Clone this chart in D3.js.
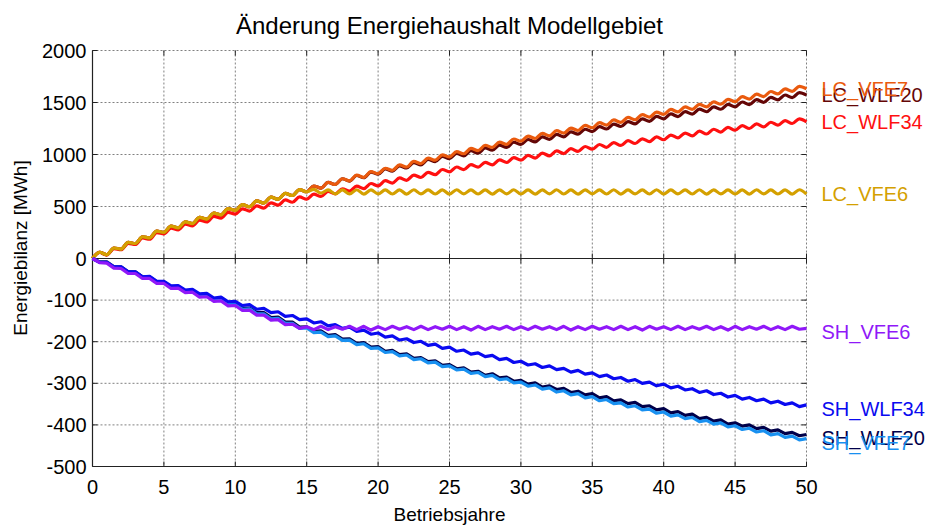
<!DOCTYPE html>
<html><head><meta charset="utf-8">
<script src="https://cdn.jsdelivr.net/npm/d3@7"></script>
<style>
html,body{margin:0;padding:0;background:#fff;}
svg{display:block;font-family:"Liberation Sans",Arial,Helvetica,sans-serif;}
</style></head>
<body><svg id="chart" width="928" height="528"></svg>
<script>
// ---- data (half-year steps from 0 to 50 years) ----
const titleText = "Änderung Energiehaushalt Modellgebiet";
const xLabel = "Betriebsjahre";
const yLabel = "Energiebilanz [MWh]";
const xTicks = [0,5,10,15,20,25,30,35,40,45,50];
const yTicksTop = [0,500,1000,1500,2000];
const yTicksBottom = [-500,-400,-300,-200,-100];

const lcVFE7 = [0,60,36,101,90,155,144,209,198,263,
252,311,294,353,336,395,378,437,420,479,
462,518,498,554,534,590,570,626,606,662,
642,697,677,732,712,767,746,801,781,836,
816,868,848,900,880,933,913,965,945,997,
977,1028,1007,1058,1037,1089,1068,1119,1098,1149,
1128,1177,1154,1203,1180,1229,1205,1254,1231,1280,
1257,1306,1283,1332,1308,1357,1334,1383,1359,1408,
1385,1433,1409,1457,1434,1482,1458,1506,1483,1531,
1507,1556,1532,1581,1557,1606,1582,1631,1607,1656,
1632];
const lcWLF20 = [0,60,36,101,90,155,144,209,198,263,
252,311,294,353,336,395,378,437,420,479,
462,518,498,554,534,590,570,626,606,662,
642,697,677,732,712,767,744,798,777,831,
810,861,840,891,870,922,901,952,931,982,
961,1010,987,1036,1013,1063,1041,1090,1068,1118,
1096,1144,1121,1169,1146,1194,1170,1218,1195,1243,
1220,1268,1245,1293,1269,1317,1294,1342,1318,1366,
1343,1390,1365,1412,1389,1436,1411,1458,1435,1482,
1457,1505,1480,1527,1502,1550,1525,1572,1547,1595,
1570];
const lcWLF34 = [0,58,33,95,84,146,135,197,186,248,
237,292,275,330,313,368,351,406,389,444,
427,478,456,506,484,535,513,563,541,592,
570,619,596,645,621,670,647,696,672,721,
698,748,725,775,752,802,779,829,806,856,
833,880,855,903,878,925,900,948,923,970,
945,992,966,1013,987,1034,1009,1056,1030,1077,
1051,1096,1069,1114,1087,1133,1106,1151,1124,1169,
1142,1187,1160,1206,1179,1224,1197,1243,1216,1261,
1234,1278,1250,1294,1266,1310,1282,1326,1298,1342,
1314];
const lcVFE6 = [0,60,36,101,90,155,144,209,198,263,
252,311,294,353,336,395,378,437,420,479,
462,518,498,554,534,590,570,626,606,662,
642,664,628,660,621,659,620,661,619,660,
621,659,620,660,619,661,621,659,620,660,
619,661,621,660,620,659,619,660,621,661,
620,659,619,660,621,661,620,659,619,660,
621,660,620,661,619,659,621,660,620,661,
619,659,621,660,620,661,619,660,621,659,
620,660,619,661,621,659,620,660,619,661,
620];
const shVFE7 = [0,-9,-9,-21,-21,-33,-33,-45,-45,-57,
-57,-69,-68,-79,-78,-90,-89,-100,-99,-111,
-110,-122,-121,-133,-133,-145,-144,-156,-156,-168,
-167,-178,-177,-188,-186,-197,-196,-207,-205,-216,
-215,-226,-224,-234,-232,-243,-241,-251,-249,-260,
-258,-268,-266,-276,-274,-284,-281,-291,-289,-299,
-297,-307,-304,-314,-311,-321,-318,-328,-325,-335,
-332,-342,-339,-349,-347,-357,-354,-364,-362,-372,
-369,-379,-376,-385,-382,-392,-389,-398,-395,-405,
-402,-411,-408,-417,-414,-424,-421,-430,-427,-436,
-433];
const shWLF20 = [0,-8,-8,-20,-20,-32,-32,-44,-44,-56,
-56,-68,-67,-78,-77,-89,-88,-99,-98,-110,
-109,-120,-119,-130,-130,-142,-141,-153,-153,-165,
-164,-175,-174,-185,-183,-194,-193,-204,-202,-213,
-212,-223,-221,-231,-229,-240,-238,-248,-246,-257,
-255,-265,-263,-273,-271,-281,-277,-287,-285,-295,
-293,-302,-299,-309,-306,-315,-312,-322,-319,-328,
-325,-335,-332,-342,-340,-349,-346,-356,-354,-364,
-361,-371,-368,-377,-374,-385,-382,-391,-388,-398,
-395,-403,-400,-409,-406,-415,-412,-421,-418,-426,
-423];
const shWLF34 = [0,-9,-9,-20,-20,-32,-32,-44,-43,-55,
-55,-66,-65,-76,-74,-85,-84,-95,-93,-104,
-103,-113,-111,-122,-120,-130,-128,-139,-137,-147,
-145,-155,-152,-162,-159,-168,-165,-175,-172,-182,
-179,-189,-186,-196,-193,-202,-199,-209,-206,-216,
-213,-223,-220,-230,-227,-236,-233,-243,-240,-250,
-247,-256,-253,-262,-258,-267,-264,-273,-269,-278,
-275,-284,-280,-289,-286,-295,-291,-300,-297,-306,
-302,-311,-307,-316,-313,-322,-318,-327,-324,-333,
-329,-338,-334,-342,-338,-347,-343,-351,-347,-356,
-352];
const shVFE6 = [0,-10,-11,-23,-24,-36,-36,-48,-48,-60,
-60,-72,-71,-82,-81,-93,-92,-103,-102,-114,
-113,-125,-124,-136,-136,-148,-147,-159,-158,-168,
-164,-171,-163,-171,-164,-170,-163,-171,-163,-172,
-164,-171,-163,-170,-164,-171,-163,-171,-164,-170,
-163,-171,-164,-172,-163,-171,-164,-170,-163,-171,
-164,-171,-163,-170,-164,-171,-163,-172,-164,-171,
-163,-170,-164,-171,-163,-171,-164,-172,-163,-170,
-164,-171,-163,-171,-164,-170,-163,-171,-164,-172,
-163,-171,-164,-170,-163,-171,-164,-171,-163,-170,
-168];

const topSeries = [
  {name:"LC_WLF34", values:lcWLF34, color:"#ff1010"},
  {name:"LC_WLF20", values:lcWLF20, color:"#640606"},
  {name:"LC_VFE7",  values:lcVFE7,  color:"#ea5a0e"},
  {name:"LC_VFE6",  values:lcVFE6,  color:"#d4a000"}
];
const bottomSeries = [
  {name:"SH_WLF20", values:shWLF20, color:"#00004a"},
  {name:"SH_VFE7",  values:shVFE7,  color:"#1890f0"},
  {name:"SH_WLF34", values:shWLF34, color:"#0a0af0"},
  {name:"SH_VFE6",  values:shVFE6,  color:"#9018f8"}
];
const years = d3.range(0, 50.001, 0.5);

// ---- layout ----
const svg = d3.select("#chart");
const L = 92.5, R = 806.5, T = 50.5, M = 258.5, B = 466.5;
const x = d3.scaleLinear().domain([0,50]).range([L,R]);
const yTop = d3.scaleLinear().domain([0,2000]).range([M,T]);
const yBot = d3.scaleLinear().domain([-500,0]).range([B,M]);

const grid = svg.append("g").attr("stroke","#808080").attr("stroke-width",1).attr("stroke-dasharray","2,2");
xTicks.filter(d=>d>0).forEach(d=>{
  grid.append("line").attr("x1",x(d)).attr("x2",x(d)).attr("y1",T).attr("y2",B);
});
yTicksTop.filter(d=>d>0).forEach(d=>{
  grid.append("line").attr("x1",L).attr("x2",R).attr("y1",yTop(d)).attr("y2",yTop(d));
});
yTicksBottom.filter(d=>d>-500).forEach(d=>{
  grid.append("line").attr("x1",L).attr("x2",R).attr("y1",yBot(d)).attr("y2",yBot(d));
});

const ax = svg.append("g").attr("stroke","#222").attr("stroke-width",1.2);
ax.append("line").attr("x1",L).attr("x2",L).attr("y1",T).attr("y2",B);
ax.append("line").attr("x1",L).attr("x2",R).attr("y1",M).attr("y2",M);
ax.append("line").attr("x1",L).attr("x2",R).attr("y1",B).attr("y2",B);

const tk = svg.append("g").attr("stroke","#222").attr("stroke-width",1);
xTicks.forEach(d=>{
  tk.append("line").attr("x1",x(d)).attr("x2",x(d)).attr("y1",B).attr("y2",B-5);
  tk.append("line").attr("x1",x(d)).attr("x2",x(d)).attr("y1",M-5).attr("y2",M+5);
  tk.append("line").attr("x1",x(d)).attr("x2",x(d)).attr("y1",T).attr("y2",T+5);
});
yTicksTop.forEach(d=>{
  tk.append("line").attr("x1",L).attr("x2",L+5).attr("y1",yTop(d)).attr("y2",yTop(d));
  tk.append("line").attr("x1",R).attr("x2",R-5).attr("y1",yTop(d)).attr("y2",yTop(d));
});
yTicksBottom.forEach(d=>{
  tk.append("line").attr("x1",L).attr("x2",L+5).attr("y1",yBot(d)).attr("y2",yBot(d));
  tk.append("line").attr("x1",R).attr("x2",R-5).attr("y1",yBot(d)).attr("y2",yBot(d));
});

const lineTop = d3.line().x((d,i)=>x(years[i])).y(d=>yTop(d)).curve(d3.curveMonotoneX);
const lineBot = d3.line().x((d,i)=>x(years[i])).y(d=>yBot(d));
topSeries.forEach(s=>{
  svg.append("path").attr("d",lineTop(s.values)).attr("fill","none")
    .attr("stroke",s.color).attr("stroke-width",3.2).attr("stroke-linejoin","round");
});
bottomSeries.forEach(s=>{
  svg.append("path").attr("d",lineBot(s.values)).attr("fill","none")
    .attr("stroke",s.color).attr("stroke-width",3.2).attr("stroke-linejoin","round");
});

const fs = 20;
xTicks.forEach(d=>{
  svg.append("text").attr("x",x(d)).attr("y",B+27).attr("text-anchor","middle")
    .attr("font-size",fs).attr("fill","#000").text(d);
});
yTicksTop.forEach(d=>{
  svg.append("text").attr("x",L-6).attr("y",yTop(d)).attr("dy","0.35em").attr("text-anchor","end")
    .attr("font-size",fs).attr("fill","#000").text(d);
});
yTicksBottom.forEach(d=>{
  svg.append("text").attr("x",L-6).attr("y",yBot(d)).attr("dy","0.35em").attr("text-anchor","end")
    .attr("font-size",fs).attr("fill","#000").text(d);
});

topSeries.forEach(s=>{
  svg.append("text").attr("x",R+15).attr("y",yTop(s.values[s.values.length-1])).attr("dy","0.35em")
    .attr("font-size",fs).attr("fill",s.color).text(s.name);
});
bottomSeries.forEach(s=>{
  svg.append("text").attr("x",R+15).attr("y",yBot(s.values[s.values.length-1])+4).attr("dy","0.35em")
    .attr("font-size",fs).attr("fill",s.color).text(s.name);
});

svg.append("text").attr("x",(L+R)/2).attr("y",34).attr("text-anchor","middle")
  .attr("font-size",24).attr("fill","#000").text(titleText);
svg.append("text").attr("x",(L+R)/2).attr("y",521).attr("text-anchor","middle")
  .attr("font-size",19).attr("fill","#000").text(xLabel);
svg.append("text").attr("transform","translate(27,248) rotate(-90)").attr("text-anchor","middle")
  .attr("font-size",19).attr("fill","#000").text(yLabel);
</script>
</body></html>
